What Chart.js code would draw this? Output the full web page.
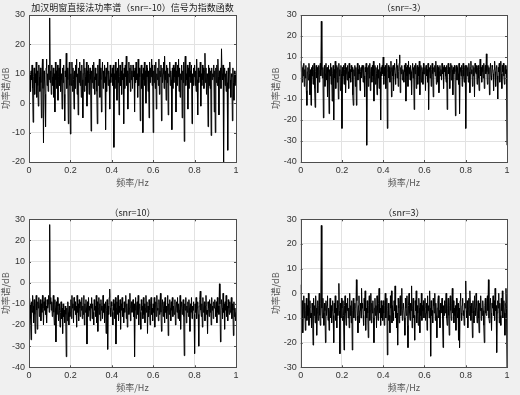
<!DOCTYPE html>
<html>
<head>
<meta charset="utf-8">
<script src="https://cdn.jsdelivr.net/npm/chart.js@4.4.0/dist/chart.umd.min.js"></script>
<style>
  body { margin: 0; background: #f0f0f0; width: 520px; height: 395px; overflow: hidden; position: relative; }
  canvas { position: absolute; }
  .ttl { position: absolute; font-family: "Noto Sans CJK SC", sans-serif; font-size: 9px; color: #1a1a1a;
         white-space: nowrap; transform: translate(-50%, -50%); line-height: 1; }
</style>
</head>
<body>
<canvas id="c1" width="260" height="197" style="left:0;top:0"></canvas>
<canvas id="c2" width="260" height="197" style="left:260px;top:0"></canvas>
<canvas id="c3" width="260" height="198" style="left:0;top:197px"></canvas>
<canvas id="c4" width="260" height="198" style="left:260px;top:197px"></canvas>
<div class="ttl" id="t1"></div>
<div class="ttl" id="t2"></div>
<div class="ttl" id="t3"></div>
<div class="ttl" id="t4"></div>
<script>
// frequency ticks (Hz)
const freqTicks = [0, 0.2, 0.4, 0.6, 0.8, 1];

// power spectrum in dB (401 bins from 0 to 1 Hz, 40 per 0.1 Hz)
const powerSnrM10 = [
  12, 6, 10, 4, 11, 8, 13, 5, -6.5, 9, 12, 3, 10, 7, 14, 2, 11, 6, -1, 13,
  9, 4, 12, 7, -5, 10, 15, 5, -13.5, 11, 8, 3, -8, 12, 15, 6, 10, 4, 13, 8,
  29, 7, 11, 3, 13, 9, 6, 12, 2, 10, -3, 14, 8, 11, 5, 13, 1, 9, 12, 6,
  15, 4, 10, 8, -2, 12, 7, 13, 3, -6, 11, 9, 17, 5, 12, 8, -7, 10, 14, 6,
  -10.5, 10, 6, 14, 4, 12, 8, -2, 11, 5, 13, 9, 15, 3, 10, -4, 12, 7, 14, 6,
  11, 2, 13, 8, -5, 10, 15, 4, 12, 9, 6, 14, -1, 11, 7, 13, 3, 10, 12, 8,
  -9.5, 11, 7, 13, 5, 14, 9, 3, 12, 8, 10, 4, -7, 13, 6, 11, 15, 2, 12, 8,
  -3, 10, 14, 5, 11, 7, 13, 9, -9, 12, 4, 10, 14, 6, 11, 8, -2, 13, 7, 10,
  9, 12, 6, 13, -15, 10, 5, 14, 8, 11, 1, 12, 7, 15, -4, 9, 13, 6, 11, 3,
  14, 8, 10, -7, 12, 5, 13, 9, 16, 6, 11, -2, 10, 14, 7, 12, 4, 13, 8, 11,
  5, 13, 9, 11, -3, 12, 7, 14, 8, 10, 2, 15, 6, 12, 9, -6, 11, 13, 5, 10,
  -10, 12, 8, 14, 6, 11, 0, 13, 9, 12, 4, 11, -5, 14, 7, 12, 9, 15, 6, 13,
  -10, 11, 7, 13, 5, 14, -2, 10, 8, 12, 6, 15, 3, 11, 9, 13, -6, 12, 7, 10,
  14, 5, 16, 8, 11, 1, 13, 7, 12, -4, 10, 9, 14, 6, 11, 8, -9, 12, 5, 13,
  7, 12, 9, 14, -3, 11, 6, 13, 9, 15, 4, 12, 2, 10, 8, 13, -5, 11, 7, 14,
  -13, 12, 16, 6, 10, 8, 13, -2, 12, 5, 14, 9, 11, 7, 13, -7, 10, 6, 12, 9,
  13, 6, 11, 4, 15, 8, -4, 12, 7, 11, 9, 14, -1, 10, 6, 13, 8, 12, 5, 11,
  17, 7, 12, 3, 10, 9, -8, 13, 6, 12, 5, 11, -11, 12, 8, 10, 9, 13, -3, 11,
  -10, 12, 7, 13, 6, 15, 9, -4, 11, 8, 12, 5, 18.5, 10, 8, 13, -20, 9, 12, 6,
  10, 4, 11, 7, -16, 12, 5, 11, 14, 8, 2, 10, 9, -6, 12, 7, 1, 11, 6, 10,
  7
];
const powerSnrM3 = [
  8, 3, 6, -2, 5, 1, 7, -4, 4, 0, 6, -6, -13, 3, 5, -1, 7, 2, -8, 4,
  -13, 5, 1, 6, -3, 4, 7, -5, -14, 3, 6, 0, 5, -7, 2, 6, -2, 4, 7, 1,
  27, 4, 0, 5, -19, 3, 6, -4, 2, 7, -1, 5, -9, 3, 6, -17, 4, 1, 7, -3,
  5, -11, 2, 6, -20, 4, 0, 8, -5, 3, 6, -2, 5, -10, 7, 1, 4, -6, 6, 2,
  -24, 5, 1, 6, -3, 4, 7, -7, 2, 5, -1, 6, 3, -5, 7, 0, 4, -2, 6, 3,
  5, -8, -13, 4, 1, 6, -4, 5, -13, 3, 7, -1, 4, 2, 6, -6, 3, 5, 0, 6,
  4, -2, 6, 1, -9, 5, 3, 7, -32, 2, 5, -4, 6, 0, 7, -6, 3, 5, -2, 6,
  1, 8, -11, 4, 6, -3, 5, 2, -8, 6, 0, 4, -5, 7, 3, -20, 5, 1, 6, 2,
  10, -3, 5, 1, 6, -5, 3, 7, -24, 4, 6, 0, 5, -2, 3, 8, -9, 5, 1, 6,
  -6, 4, 7, 2, -3, 5, 9, 0, 6, -4, 3, 7, 11, -7, 5, 2, 6, -1, 4, 3,
  -2, 6, 3, 7, -11, 5, 1, 6, -4, 8, 2, 5, -1, 6, 3, -8, 4, 7, 0, 5,
  -15, 6, 2, 7, -5, 4, 6, -3, 5, 1, 8, -8, 4, 6, -2, 5, 3, -3, 7, 2,
  2, 5, -6, 6, 1, 4, -2, 7, -15, 3, 5, 0, 6, -4, 4, 7, 2, -9, 5, 3,
  6, 1, 8, -3, 4, 6, -2, 5, -7, 3, 6, 1, 4, -1, 7, 2, 5, -5, 6, 3,
  5, 1, -2, 6, -15, 4, 7, 2, 5, -5, 3, 7, -1, 6, 4, -8, 5, 2, 6, 3,
  -18, 4, 6, -1, 5, 2, -3, 7, -17, 3, 5, 1, 6, -4, 4, 7, 1, -2, 5, 6,
  -24, 4, 6, 1, 5, -2, 7, 3, -7, 5, 8, 2, 4, -4, 6, 1, 5, -9, 7, 3,
  2, 6, -3, 5, 6, 0, -6, 4, 9, 1, 5, -2, 6, 3, 0, 7, -5, 4, 6, 2,
  11.5, 3, -3, 6, 2, 5, -8, 4, 7, 1, -1, 6, 5, 2, -6, 4, 8, 3, -4, 5,
  6, 1, -10, 5, 3, 7, -2, 4, 8, 2, -5, 6, 3, 7, 1, -3, 5, 6, 2, 4,
  -32
];
const powerSnr10 = [
  -13, -7, -10, -17, -27, -9, -14, -6, -11, -19, -8, -15, -24, -10, -6, -13, -22, -9, -12, -7,
  -16, -11, -8, -18, -10, -14, -6, -12, -20, -9, -13, -7, -15, -11, -19, -8, -12, -10, -6, -14,
  27.5, -10, -7, -13, -9, -16, -11, -6, -14, -20, -8, -12, -28, -9, -15, -7, -11, -18, -10, -13,
  -21, -14, -9, -17, -12, -24, -10, -16, -13, -19, -11, -15, -35, -12, -18, -9, -14, -20, -11, -16,
  -14, -8, -17, -6, -12, -10, -19, -7, -13, -9, -15, -11, -21, -6, -14, -10, -18, -8, -12, -16,
  -9, -13, -7, -17, -11, -15, -6, -20, -10, -14, -8, -12, -29, -9, -16, -7, -13, -11, -18, -10,
  -12, -7, -17, -10, -14, -20, -8, -13, -11, -16, -6, -19, -9, -23, -12, -7, -15, -10, -18, -8,
  -13, -11, -17, -6, -14, -10, -19, -12, -9, -24, -13, -8, -31.5, -11, -15, -7, -3, -12, -16, -9,
  -11, -14, -20, -8, -13, -10, -17, -7, -29, -12, -9, -15, -6, -18, -11, -14, -8, -22, -10, -13,
  -7, -16, -12, -19, -9, -14, -11, -6, -17, -10, -21, -13, -8, -15, -12, -5, -18, -11, -9, -14,
  -12, -8, -16, -10, -35, -13, -7, -17, -11, -9, -15, -6, -20, -12, -10, -14, -22, -8, -13, -11,
  -17, -7, -15, -10, -19, -12, -6, -14, -9, -24, -11, -16, -8, -13, -20, -10, -7, -15, -12, -18,
  -10, -14, -7, -21, -11, -9, -16, -6, -13, -12, -18, -8, -15, -10, -5, -14, -23, -11, -8, -16,
  -12, -9, -19, -7, -14, -11, -17, -13, -6, -25, -10, -15, -8, -12, -18, -9, -13, -7, -16, -11,
  -11, -15, -8, -20, -12, -9, -14, -7, -17, -10, -13, -18, -6, -22, -11, -9, -15, -12, -8, -16,
  -34.5, -10, -13, -7, -19, -11, -14, -9, -16, -8, -12, -23, -10, -14, -7, -17, -11, -13, -9, -15,
  -33.5, -10, -14, -7, -17, -12, -9, -15, -30, -11, -8, -4, -13, -16, -10, -21, -7, -14, -12, -9,
  -18, -11, -6, -15, -13, -24, -9, -12, -16, -8, -14, -10, -20, -7, -13, -11, -17, -9, -12, -8,
  -12, -16, -9, -19, -7, -14, -11, -15, -0.5, -10, -28, -13, -8, -12, -17, -5, -14, -10, -22, -9,
  -13, -6, -16, -11, -18, -8, -12, -15, -9, -14, -11, -7, -17, -10, -13, -25, -9, -16, -12, -18,
  -14
];
const powerSnr3 = [
  3.5, -8, -12, -3, -16, -6, -1, -10, -4, -15, -7, -2, -11, -5, -9, 0, -13, -6, -3, -10,
  -8, -14, -4, -7, -21, -2, -9, -5, -12, -1, -6, -17, -8, -3, -11, -5, 0, -9, -13, -4,
  27.5, -6, -10, -2, -8, -13, -4, -7, -20, -3, -9, -5, -1, -11, -6, -15, -8, -2, -10, -5,
  -12, -7, -3, -9, -20, -4, -8, -1, -11, -6, -14, -3, -9, -5, 4, -7, -24.5, -4, -10, -2,
  -6, -11, -3, -9, -23, -5, -1, -8, -13, -4, -7, -2, -10, -6, -14, 0, -9, -5, -12, -3,
  -23, -7, -2, -10, -6, -4, -11, -8, 5.5, -3, -9, -16, -5, -1, -12, -7, -4, -10, 2, -6,
  -4, -9, -13, -2, -7, 1, -15, -6, -10, -3, -8, -18, -5, -1, -11, -7, 0, -12, -4, -8,
  -3, -10, -20, -6, -2, -9, -5, -14, -1, -7, -11, -4, 2, -8, -6, -13, -3, -10, -5, -11,
  -3, -8, -13, -5, 0, -10, -6, -2, -25, -7, -4, -11, -9, -16, -1, -6, 1, -12, -5, -8,
  -11, -3, -7, 3, -10, -5, -14, -8, -21, -2, -6, -12, -4, -1, -9, -6, 2, -11, -7, -4,
  -4, -10, -17, -2, -6, -9, -1, -13, -22, -5, 0, -8, -11, -4, -7, 3, -14, -6, -2, -10,
  -9, -19, -3, -7, 1, -12, -5, -8, -13, -2, -6, -16, -4, -9, 0, -11, -5, -7, -3, -10,
  -6, -2, -11, -8, -4, -15, -1, -7, -5, -10, 1, -6, -25.5, -3, -9, -7, -12, -2, -5, -8,
  0, -11, -4, -9, -18, -6, -3, -1, -10, -7, -14, -4, -8, -6, -2, -10, -22, -5, -9, -3,
  -8, -4, 0, -10, -13, -6, -2, -9, -17, -5, -1, -7, -11, -4, 2, -8, -3, -12, -6, -9,
  -5, -15, -2, -7, -10, -4, -19, -6, -22, -3, 0, -8, -11, -5, -2, -9, -7, -13, -4, -6,
  5, -7, -10, -3, -14, -6, -2, -9, 1, -5, -11, -4, -8, -18, -3, -7, -12, -1, -6, -9,
  0, -5, -12, -8, -3, -10, -16, -4, -7, -1, -11, -6, -9, -3, -7, -13, -20, -5, -2, -8,
  -9, -4, -1, -7, 5.5, -10, -12, -5, -2, -8, -15, -4, -6, -1, -9, -3, -11, 2, -7, -5,
  -24, -8, -3, -6, 0, -12, -4, -9, -13, -2, -7, 1, -10, -5, -3, -8, -17, -4, 2, -6,
  -30
];

const panelTitles = [
  '加汉明窗直接法功率谱（snr=-10）信号为指数函数',
  '（snr=-3）',
  '（snr=10）',
  '（snr=3）'
];
const yRanges = [[-20, 30], [-40, 30], [-40, 30], [-30, 30]];

// layout of each subplot, in canvas pixels
const panels = [
  { id: 'c1', tid: 't1', x0: 0,   y0: 0,   w: 260, h: 197, left: 29,   right: 236, top: 15,   bottom: 162,   yPad: 0,    xPad: 8.9, titleY: 6.7,   values: powerSnrM10 },
  { id: 'c2', tid: 't2', x0: 260, y0: 0,   w: 260, h: 197, left: 40.7, right: 247, top: 15,   bottom: 162,   yPad: 10.3, xPad: 8.9, titleY: 6.7,   values: powerSnrM3 },
  { id: 'c3', tid: 't3', x0: 0,   y0: 197, w: 260, h: 198, left: 29,   right: 236, top: 22.3, bottom: 170.3, yPad: 0,    xPad: 1.9, titleY: 211.7, values: powerSnr10 },
  { id: 'c4', tid: 't4', x0: 260, y0: 197, w: 260, h: 198, left: 40.7, right: 247, top: 22.3, bottom: 170.3, yPad: 10.3, xPad: 1.9, titleY: 211.7, values: powerSnr3 }
];

// white axes background, box and inward tick marks like matlab
const axesBox = {
  id: 'axesBox',
  beforeDraw(chart) {
    const a = chart.chartArea, ctx = chart.ctx;
    ctx.save();
    ctx.fillStyle = '#ffffff';
    ctx.fillRect(a.left, a.top, a.right - a.left, a.bottom - a.top);
    ctx.restore();
  },
  afterDraw(chart) {
    const a = chart.chartArea, ctx = chart.ctx;
    const xs = chart.scales.x, ys = chart.scales.y;
    ctx.save();
    ctx.strokeStyle = '#4d4d4d';
    ctx.lineWidth = 1;
    ctx.strokeRect(Math.round(a.left) + 0.5, Math.round(a.top) + 0.5,
                   Math.round(a.right - a.left), Math.round(a.bottom - a.top));
    ctx.beginPath();
    xs.ticks.forEach(t => {
      const px = Math.round(xs.getPixelForValue(t.value)) + 0.5;
      ctx.moveTo(px, a.bottom); ctx.lineTo(px, a.bottom - 2);
      ctx.moveTo(px, a.top); ctx.lineTo(px, a.top + 2);
    });
    ys.ticks.forEach(t => {
      const py = Math.round(ys.getPixelForValue(t.value)) + 0.5;
      ctx.moveTo(a.left, py); ctx.lineTo(a.left + 2, py);
      ctx.moveTo(a.right, py); ctx.lineTo(a.right - 2, py);
    });
    ctx.stroke();
    ctx.restore();
  }
};

const tickFont = { family: '"Liberation Sans", Arial, sans-serif', size: 9 };
const labelFont = { family: '"Noto Sans CJK SC", sans-serif', size: 9 };

function makePanel(p, i) {
  const n = p.values.length;
  const pts = p.values.map((v, k) => ({ x: k / (n - 1), y: v }));
  const [yMin, yMax] = yRanges[i];

  const t = document.getElementById(p.tid);
  t.textContent = panelTitles[i];
  t.style.left = (p.x0 + (p.left + p.right) / 2) + 'px';
  t.style.top = p.titleY + 'px';

  return new Chart(document.getElementById(p.id), {
    type: 'line',
    data: {
      datasets: [{
        data: pts,
        borderColor: '#000000',
        borderWidth: 1,
        pointRadius: 0,
        tension: 0,
        fill: false
      }]
    },
    options: {
      responsive: false,
      animation: false,
      devicePixelRatio: 1,
      layout: { padding: { top: p.top, right: p.w - p.right, bottom: 0, left: 0 } },
      plugins: { legend: { display: false }, tooltip: { enabled: false } },
      scales: {
        x: {
          type: 'linear',
          min: 0,
          max: 1,
          afterBuildTicks: s => { s.ticks = freqTicks.map(v => ({ value: v })); },
          afterFit: s => { s.height = p.h - p.bottom; },
          ticks: {
            font: tickFont,
            color: '#333333',
            padding: 3,
            maxRotation: 0,
            callback: v => String(v)
          },
          grid: { color: '#e2e2e2', drawTicks: false },
          border: { display: false },
          title: {
            display: true,
            text: '频率/Hz',
            font: labelFont,
            color: '#555555',
            padding: { top: 0, bottom: p.xPad }
          }
        },
        y: {
          min: yMin,
          max: yMax,
          ticks: { stepSize: 10, font: tickFont, color: '#333333', padding: 4 },
          afterFit: s => { s.width = p.left; },
          grid: { color: '#e2e2e2', drawTicks: false },
          border: { display: false },
          title: {
            display: true,
            text: '功率谱/dB',
            font: labelFont,
            color: '#555555',
            padding: { top: p.yPad, bottom: 0 }
          }
        }
      }
    },
    plugins: [axesBox]
  });
}

panels.forEach(makePanel);
</script>
</body>
</html>
